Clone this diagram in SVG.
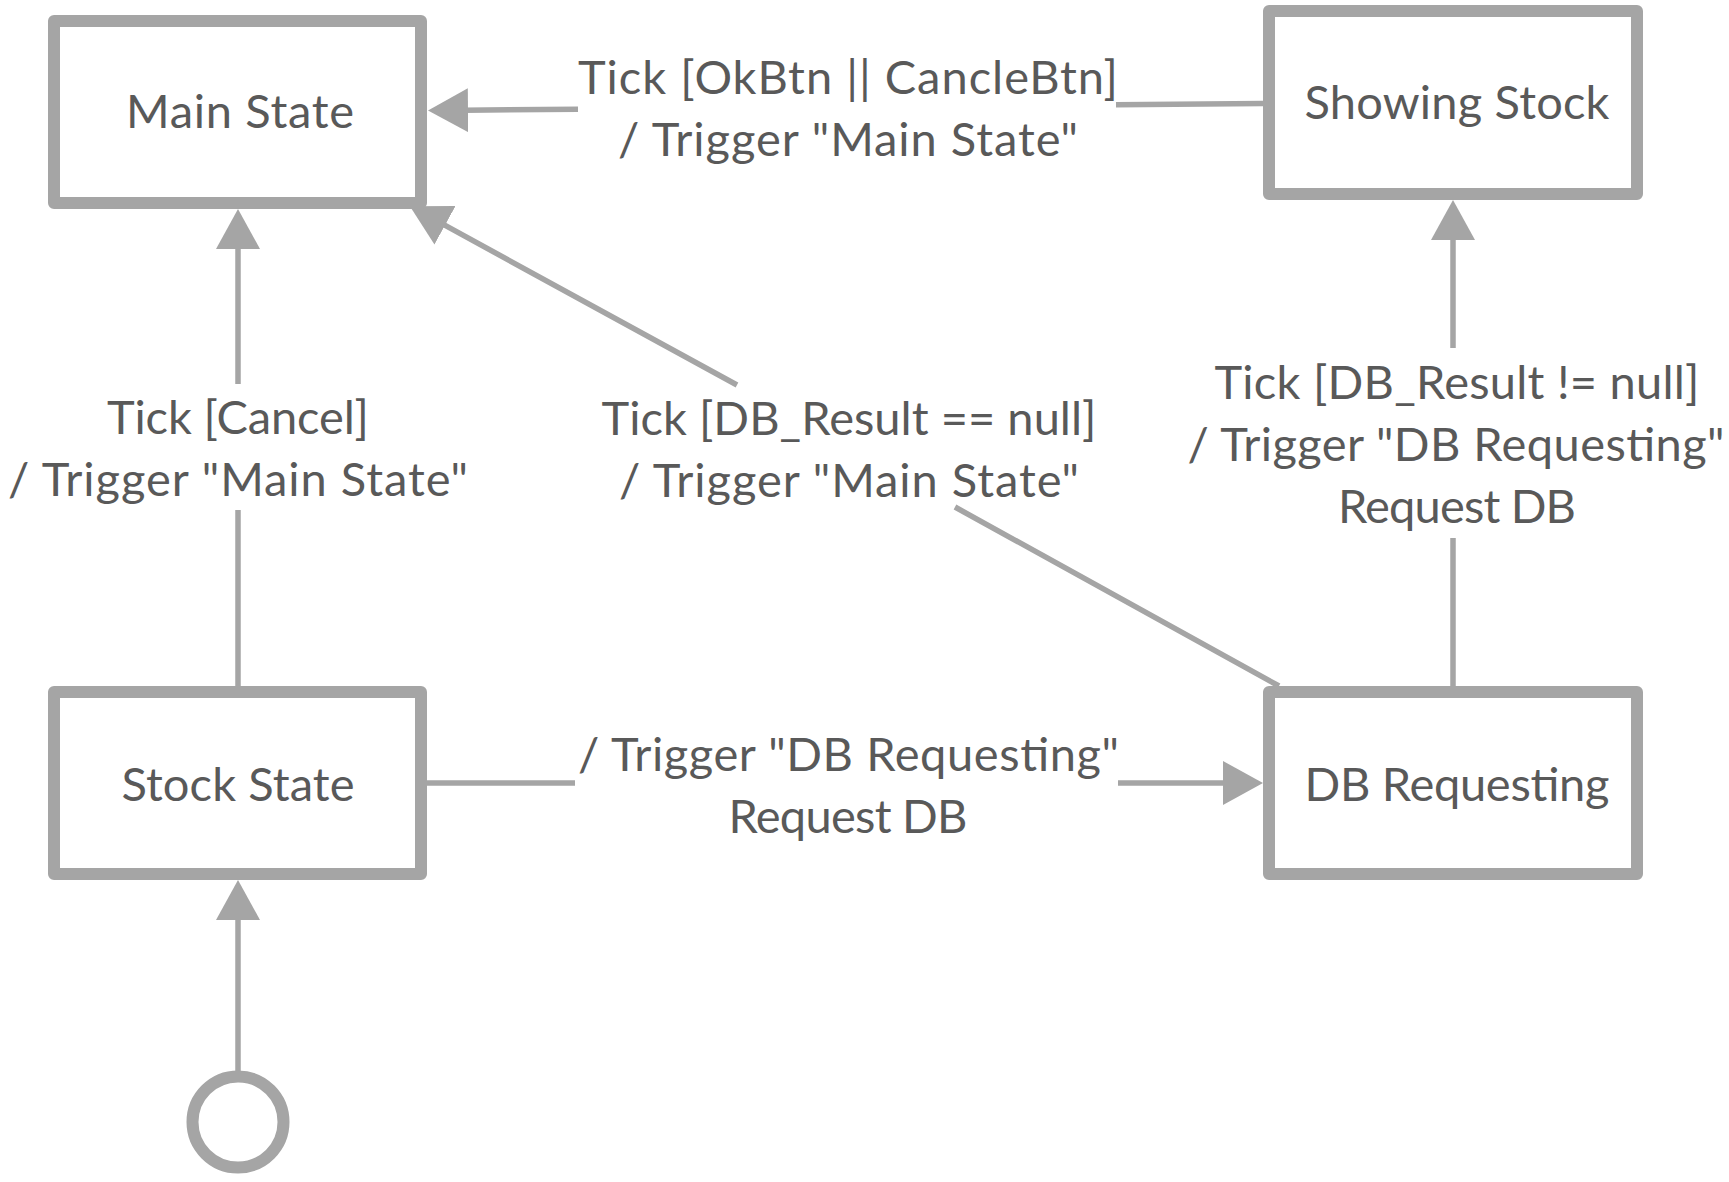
<svg xmlns="http://www.w3.org/2000/svg" width="1729" height="1182" viewBox="0 0 1729 1182">
<style>
.box{fill:#ffffff;stroke:#a5a5a5;stroke-width:12;stroke-linejoin:round}
.edge{fill:none;stroke:#a5a5a5;stroke-width:5.5}
.t{font-family:Lato,"Liberation Sans",Arial,sans-serif;font-size:47px;fill:#595959;text-anchor:middle}
</style>
<defs>
<marker id="arr" markerUnits="userSpaceOnUse" markerWidth="40" markerHeight="44" refX="4" refY="22" orient="auto">
<path d="M0,0 L40,22 L0,44 Z" fill="#a5a5a5"/>
</marker>
</defs>
<rect width="1729" height="1182" fill="#ffffff"/>
<g id="connectors">
<path class="edge" d="M1263,103.5 L1116,104.7 M578,109.2 L464,110.2" marker-end="url(#arr)"/>
<path class="edge" d="M238,686 L238,510 M238,384 L238,245" marker-end="url(#arr)"/>
<path class="edge" d="M1279,686 L955,507 M737,385 L441.5,223.4" marker-end="url(#arr)"/>
<path class="edge" d="M1453,686 L1453,538 M1453,348 L1453,236" marker-end="url(#arr)"/>
<path class="edge" d="M427,783 L575,783 M1118,783 L1227,783" marker-end="url(#arr)"/>
<path class="edge" d="M238,1071 L238,916" marker-end="url(#arr)"/>
</g>
<g id="labels">
<text class="t" x="848" y="94" textLength="540" lengthAdjust="spacing">Tick [OkBtn || CancleBtn]</text>
<text class="t" x="848" y="156" textLength="460" lengthAdjust="spacing">/ Trigger "Main State"</text>
<text class="t" x="238" y="433.5" textLength="262" lengthAdjust="spacing">Tick [Cancel]</text>
<text class="t" x="238" y="495.5" textLength="460" lengthAdjust="spacing">/ Trigger "Main State"</text>
<text class="t" x="849" y="434.5" textLength="495" lengthAdjust="spacing">Tick [DB_Result == null]</text>
<text class="t" x="849" y="496.5" textLength="460" lengthAdjust="spacing">/ Trigger "Main State"</text>
<text class="t" x="1457" y="399" textLength="485" lengthAdjust="spacing">Tick [DB_Result != null]</text>
<text class="t" x="1456" y="461" textLength="537" lengthAdjust="spacing">/ Trigger "DB Requesting"</text>
<text class="t" x="1457" y="523" textLength="238" lengthAdjust="spacing">Request DB</text>
<text class="t" x="848.5" y="771" textLength="541" lengthAdjust="spacing">/ Trigger "DB Requesting"</text>
<text class="t" x="848" y="833" textLength="239" lengthAdjust="spacing">Request DB</text>
</g>
<g id="main-state">
<rect class="box" x="54" y="21" width="367" height="182"/>
<text class="t" x="240" y="128" textLength="228" lengthAdjust="spacing">Main State</text>
</g>
<g id="showing-stock">
<rect class="box" x="1269" y="11" width="368" height="183"/>
<text class="t" x="1457" y="119" textLength="305" lengthAdjust="spacing">Showing Stock</text>
</g>
<g id="stock-state">
<rect class="box" x="54" y="692" width="367" height="182"/>
<text class="t" x="238" y="801" textLength="233" lengthAdjust="spacing">Stock State</text>
</g>
<g id="db-requesting">
<rect class="box" x="1269" y="692" width="368" height="182"/>
<text class="t" x="1457" y="801" textLength="305" lengthAdjust="spacing">DB Requesting</text>
</g>
<g id="initial">
<circle cx="238" cy="1122" r="45.5" fill="#ffffff" stroke="#a5a5a5" stroke-width="12"/>
</g>
</svg>
